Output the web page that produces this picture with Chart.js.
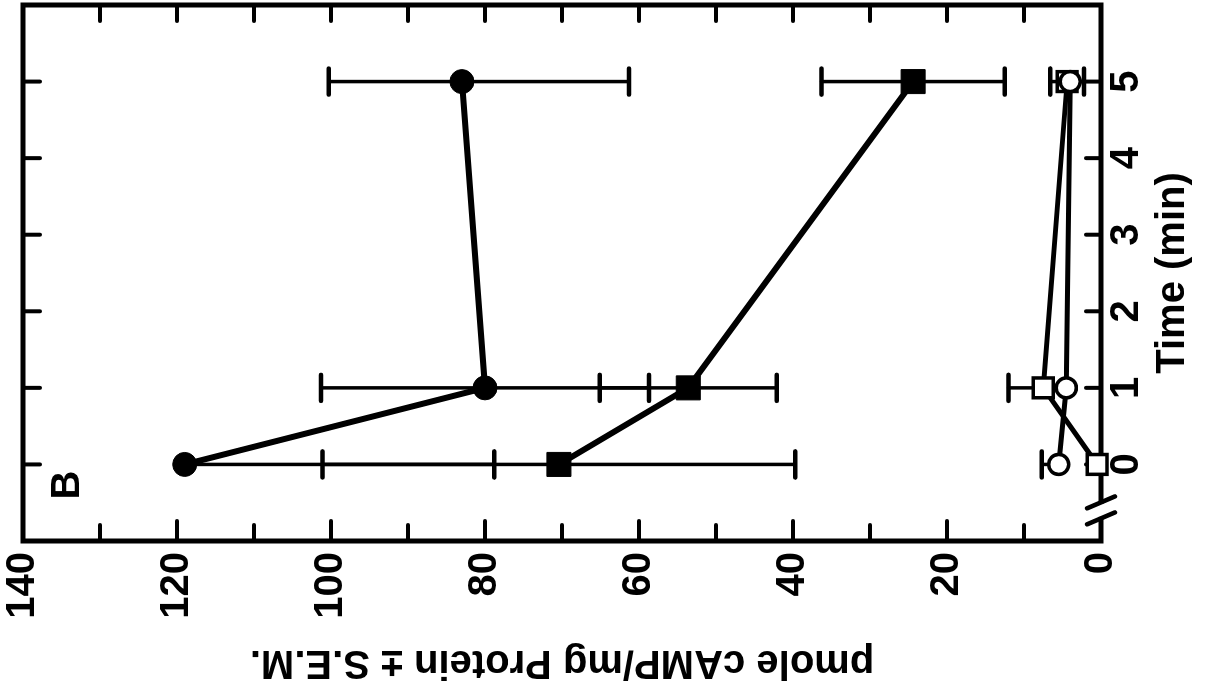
<!DOCTYPE html>
<html lang="en">
<head>
<meta charset="UTF-8">
<title>cAMP time course - B</title>
<script src="https://cdn.jsdelivr.net/npm/chart.js"></script>
<style>
  html, body {
    margin: 0;
    padding: 0;
    width: 1218px;
    height: 692px;
    overflow: hidden;
    background: #fff;
  }

  /* the figure is printed turned on its side, so the chart is drawn upright and turned */
  #giro {
    position: absolute;
    left: 0;
    top: 0;
    width: 692px;
    height: 1218px;
    transform-origin: 0 0;
    transform: translate(0, 692px) rotate(-90deg);
  }
</style>
</head>
<body>
<div id="giro">
  <canvas id="grafico" width="692" height="1218"></canvas>
</div>

<script>
  const FONTE = "'Liberation Sans', Arial, Helvetica, sans-serif";

  // time points (min)
  const tempos = [0, 1, 5];

  // filled circles
  const circCheio = [119, 80, 83];
  const circCheioMais = [0, 21.3, 17.3];
  const circCheioMenos = [40.2, 21.3, 21.7];

  // filled squares
  const quadCheio = [70.4, 53.6, 24.4];
  const quadCheioMais = [30.7, 11.5, 11.9];
  const quadCheioMenos = [30.7, 11.5, 11.9];

  // open circles
  const circAberto = [5.5, 4.5, 4.0];
  const circAbertoMais = [2.2, 0, 0];
  const circAbertoMenos = [0, 0, 0];

  // open squares
  const quadAberto = [0.5, 7.5, 4.4];
  const quadAbertoMais = [0, 4.5, 2.2];
  const quadAbertoMenos = [0, 0, 2.2];

  // axes
  const tempoTicks = [0, 1, 2, 3, 4, 5];
  const pmoleTicks = [0, 20, 40, 60, 80, 100, 120, 140];
  const quebraTempo = -0.6;

  function pontos(valores) {
    return tempos.map((t, i) => ({ x: t, y: valores[i] }));
  }

  function linha(ctx, x1, y1, x2, y2) {
    ctx.beginPath();
    ctx.moveTo(x1, y1);
    ctx.lineTo(x2, y2);
    ctx.stroke();
  }

  // frame, inward ticks and the axis break
  const moldura = {
    id: 'moldura',
    beforeDatasetsDraw(chart) {
      const { ctx, chartArea: a, scales: { x, y } } = chart;
      ctx.save();
      ctx.strokeStyle = '#000';
      ctx.lineCap = 'round';
      ctx.lineWidth = 4;

      for (let v = 10; v < 140; v += 10) {
        const py = y.getPixelForValue(v);
        const tam = v % 20 === 0 ? 20 : 16;
        linha(ctx, a.left, py, a.left + tam, py);
        linha(ctx, a.right, py, a.right - 16, py);
      }
      tempoTicks.forEach(t => {
        const px = x.getPixelForValue(t);
        linha(ctx, px, a.bottom, px, a.bottom - 15);
        linha(ctx, px, a.top, px, a.top + 17);
      });

      const bx = x.getPixelForValue(quebraTempo);
      ctx.lineWidth = 5;
      ctx.lineCap = 'square';
      ctx.beginPath();
      ctx.moveTo(bx - 9, a.bottom);
      ctx.lineTo(a.left, a.bottom);
      ctx.lineTo(a.left, a.top);
      ctx.lineTo(a.right, a.top);
      ctx.lineTo(a.right, a.bottom);
      ctx.lineTo(bx + 9, a.bottom);
      ctx.stroke();

      ctx.lineWidth = 4.5;
      ctx.lineCap = 'round';
      [-8, 8].forEach(o => {
        linha(ctx, bx + o - 6, a.bottom - 14, bx + o + 6, a.bottom + 14);
      });
      ctx.restore();
    }
  };

  // S.E.M. bars
  const barras = {
    id: 'barras',
    beforeDatasetsDraw(chart) {
      const { ctx, scales: { x, y } } = chart;
      ctx.save();
      ctx.strokeStyle = '#000';
      ctx.lineCap = 'round';
      chart.data.datasets.forEach(ds => {
        ds.data.forEach((p, i) => {
          const mais = ds.errMais[i];
          const menos = ds.errMenos[i];
          if (!mais && !menos) return;
          const px = x.getPixelForValue(p.x);
          const topo = y.getPixelForValue(p.y + mais);
          const base = y.getPixelForValue(p.y - menos);
          ctx.lineWidth = 3.5;
          linha(ctx, px, topo, px, base);
          ctx.lineWidth = 4.5;
          if (mais) linha(ctx, px - 13, topo, px + 13, topo);
          if (menos) linha(ctx, px - 13, base, px + 13, base);
        });
      });
      ctx.restore();
    }
  };

  // panel letter
  const letra = {
    id: 'letra',
    afterDraw(chart) {
      const { ctx, chartArea: a } = chart;
      ctx.save();
      ctx.fillStyle = '#000';
      ctx.font = 'bold 40px ' + FONTE;
      ctx.textAlign = 'center';
      ctx.textBaseline = 'middle';
      ctx.fillText('B', a.left + 56, a.top + 45);
      ctx.restore();
    }
  };

  const ctx = document.getElementById('grafico').getContext('2d');

  const grafico = new Chart(ctx, {
    type: 'line',
    data: {
      datasets: [
        {
          data: pontos(circCheio),
          errMais: circCheioMais,
          errMenos: circCheioMenos,
          borderColor: '#000',
          borderWidth: 6,
          pointStyle: 'circle',
          pointRadius: 12,
          pointBackgroundColor: '#000',
          pointBorderColor: '#000',
          pointBorderWidth: 1,
          clip: false
        },
        {
          data: pontos(quadCheio),
          errMais: quadCheioMais,
          errMenos: quadCheioMenos,
          borderColor: '#000',
          borderWidth: 6,
          pointStyle: 'rect',
          pointRadius: 17,
          pointBackgroundColor: '#000',
          pointBorderColor: '#000',
          pointBorderWidth: 1,
          clip: false
        },
        {
          data: pontos(circAberto),
          errMais: circAbertoMais,
          errMenos: circAbertoMenos,
          borderColor: '#000',
          borderWidth: 5,
          pointStyle: 'circle',
          pointRadius: 10,
          pointBackgroundColor: '#fff',
          pointBorderColor: '#000',
          pointBorderWidth: 3.5,
          clip: false
        },
        {
          data: pontos(quadAberto),
          errMais: quadAbertoMais,
          errMenos: quadAbertoMenos,
          borderColor: '#000',
          borderWidth: 5,
          pointStyle: 'rect',
          pointRadius: 14,
          pointBackgroundColor: '#fff',
          pointBorderColor: '#000',
          pointBorderWidth: 3.5,
          clip: false
        }
      ]
    },
    options: {
      responsive: false,
      animation: false,
      devicePixelRatio: 1,
      layout: {
        autoPadding: false,
        padding: { top: 23, right: 5, bottom: 0, left: 0 }
      },
      scales: {
        x: {
          type: 'linear',
          position: 'bottom',
          min: -1,
          max: 6,
          afterBuildTicks: s => { s.ticks = tempoTicks.map(v => ({ value: v })); },
          afterFit: s => {
            s.height = 117;
            s.paddingLeft = 0;
            s.paddingRight = 0;
          },
          grid: { display: false, drawTicks: false },
          border: { display: false },
          ticks: {
            color: '#000',
            padding: 2,
            maxRotation: 0,
            autoSkip: false,
            font: { family: FONTE, size: 40, weight: 'bold' }
          },
          title: {
            display: true,
            text: 'Time (min)',
            color: '#000',
            padding: { top: 4, bottom: 21 },
            font: { family: FONTE, size: 40, weight: 'bold' }
          }
        },
        y: {
          type: 'linear',
          position: 'left',
          min: 0,
          max: 140,
          afterBuildTicks: s => { s.ticks = pmoleTicks.map(v => ({ value: v })); },
          afterFit: s => {
            s.width = 151;
            s.paddingTop = 0;
            s.paddingBottom = 0;
          },
          grid: { display: false, drawTicks: false },
          border: { display: false },
          ticks: {
            color: '#000',
            padding: 11,
            autoSkip: false,
            font: { family: FONTE, size: 40, weight: 'bold' }
          },
          title: {
            display: true,
            text: 'pmole cAMP/mg Protein \u00b1 S.E.M.',
            color: '#000',
            padding: { top: 6, bottom: 4 },
            font: { family: FONTE, size: 40, weight: 'bold' }
          }
        }
      },
      plugins: {
        legend: { display: false },
        tooltip: { enabled: false }
      }
    },
    plugins: [moldura, barras, letra]
  });
</script>
</body>
</html>
